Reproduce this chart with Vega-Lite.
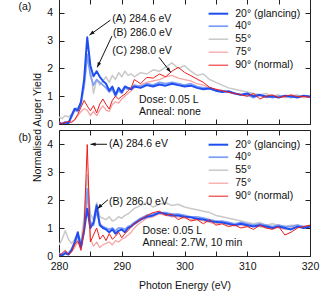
{
"$schema":"https://vega.github.io/schema/vega-lite/v6.json",
"background":"white",
"padding":{"left":17,"top":-2,"right":5,"bottom":0},
"bounds":"flush",
"spacing":6,
"config":{
 "font":"Liberation Sans",
 "view":{"stroke":"#222","strokeWidth":1},
 "axis":{"domain":false,"grid":false,"tickSize":-5,"tickColor":"#222","labelFontSize":10.5,"labelColor":"#111","titleFontSize":10.5,"titleFontWeight":"normal","titleColor":"#111","labelFlush":false,"labelOverlap":false},
 "legend":{"orient":"none","legendX":151.9,"legendY":7.2,"title":null,"symbolType":"M-1.6,0H1.6","symbolSize":150,"labelFontSize":10.5,"labelOffset":9.35,"rowPadding":0,"padding":0,"labelColor":"#111"},
 "text":{"fontSize":10.5,"color":"#111"}
},
"resolve":{"scale":{"color":"independent","strokeWidth":"independent"}},
"datasets":{
"a":[
{"s":"55°","e":280,"y":0.25},{"s":"55°","e":280.5,"y":0.2},{"s":"55°","e":281,"y":0.3},{"s":"55°","e":281.5,"y":0.25},{"s":"55°","e":282,"y":0.35},{"s":"55°","e":282.5,"y":0.55},{"s":"55°","e":283,"y":0.6},{"s":"55°","e":283.5,"y":0.75},{"s":"55°","e":284,"y":1.3},{"s":"55°","e":284.5,"y":2.3},{"s":"55°","e":285,"y":2.0},{"s":"55°","e":285.5,"y":1.1},{"s":"55°","e":286,"y":1.6},{"s":"55°","e":286.5,"y":1.4},{"s":"55°","e":287,"y":1.55},{"s":"55°","e":287.5,"y":1.7},{"s":"55°","e":288,"y":1.5},{"s":"55°","e":288.5,"y":1.75},{"s":"55°","e":289,"y":1.6},{"s":"55°","e":289.5,"y":1.85},{"s":"55°","e":290,"y":1.7},{"s":"55°","e":290.5,"y":1.9},{"s":"55°","e":291,"y":1.75},{"s":"55°","e":291.5,"y":1.8},{"s":"55°","e":292,"y":1.7},{"s":"55°","e":293,"y":1.85},{"s":"55°","e":294,"y":1.8},{"s":"55°","e":295,"y":1.95},{"s":"55°","e":296,"y":1.9},{"s":"55°","e":297,"y":2.05},{"s":"55°","e":298,"y":2.2},{"s":"55°","e":299,"y":2.0},{"s":"55°","e":300,"y":2.1},{"s":"55°","e":301,"y":1.9},{"s":"55°","e":302,"y":1.75},{"s":"55°","e":303,"y":1.8},{"s":"55°","e":304,"y":1.6},{"s":"55°","e":305,"y":1.5},{"s":"55°","e":306,"y":1.4},{"s":"55°","e":307,"y":1.3},{"s":"55°","e":308,"y":1.25},{"s":"55°","e":309,"y":1.2},{"s":"55°","e":310,"y":1.15},{"s":"55°","e":311,"y":1.1},{"s":"55°","e":312,"y":1.05},{"s":"55°","e":313,"y":1.1},{"s":"55°","e":314,"y":1.0},{"s":"55°","e":315,"y":1.05},{"s":"55°","e":316,"y":0.95},{"s":"55°","e":317,"y":1.0},{"s":"55°","e":318,"y":1.05},{"s":"55°","e":319,"y":0.95},{"s":"55°","e":320,"y":1.0},
{"s":"75°","e":280,"y":0.02},{"s":"75°","e":280.5,"y":0.0},{"s":"75°","e":281,"y":0.02},{"s":"75°","e":281.5,"y":0.05},{"s":"75°","e":282,"y":0.1},{"s":"75°","e":282.5,"y":0.15},{"s":"75°","e":283,"y":0.3},{"s":"75°","e":283.5,"y":0.45},{"s":"75°","e":284,"y":0.55},{"s":"75°","e":284.5,"y":0.5},{"s":"75°","e":285,"y":0.3},{"s":"75°","e":285.5,"y":0.45},{"s":"75°","e":286,"y":0.3},{"s":"75°","e":286.5,"y":0.5},{"s":"75°","e":287,"y":0.65},{"s":"75°","e":287.5,"y":0.5},{"s":"75°","e":288,"y":0.45},{"s":"75°","e":288.5,"y":0.7},{"s":"75°","e":289,"y":0.8},{"s":"75°","e":289.5,"y":0.75},{"s":"75°","e":290,"y":0.9},{"s":"75°","e":290.5,"y":1.0},{"s":"75°","e":291,"y":1.1},{"s":"75°","e":291.5,"y":1.2},{"s":"75°","e":292,"y":1.3},{"s":"75°","e":293,"y":1.4},{"s":"75°","e":294,"y":1.5},{"s":"75°","e":295,"y":1.55},{"s":"75°","e":296,"y":1.6},{"s":"75°","e":297,"y":1.7},{"s":"75°","e":298,"y":1.75},{"s":"75°","e":299,"y":1.65},{"s":"75°","e":300,"y":1.6},{"s":"75°","e":301,"y":1.55},{"s":"75°","e":302,"y":1.45},{"s":"75°","e":303,"y":1.4},{"s":"75°","e":304,"y":1.3},{"s":"75°","e":305,"y":1.25},{"s":"75°","e":306,"y":1.2},{"s":"75°","e":307,"y":1.15},{"s":"75°","e":308,"y":1.1},{"s":"75°","e":309,"y":1.05},{"s":"75°","e":310,"y":1.0},{"s":"75°","e":311,"y":1.05},{"s":"75°","e":312,"y":1.0},{"s":"75°","e":313,"y":0.95},{"s":"75°","e":314,"y":1.0},{"s":"75°","e":315,"y":1.0},{"s":"75°","e":316,"y":0.95},{"s":"75°","e":317,"y":1.0},{"s":"75°","e":318,"y":1.0},{"s":"75°","e":319,"y":0.95},{"s":"75°","e":320,"y":1.0},
{"s":"40°","e":280,"y":0.05},{"s":"40°","e":280.5,"y":0.02},{"s":"40°","e":281,"y":0.08},{"s":"40°","e":281.5,"y":0.05},{"s":"40°","e":282,"y":0.25},{"s":"40°","e":282.5,"y":0.5},{"s":"40°","e":283,"y":0.45},{"s":"40°","e":283.5,"y":0.7},{"s":"40°","e":284,"y":1.4},{"s":"40°","e":284.5,"y":2.5},{"s":"40°","e":285,"y":1.75},{"s":"40°","e":285.5,"y":1.4},{"s":"40°","e":286,"y":1.6},{"s":"40°","e":286.5,"y":1.5},{"s":"40°","e":287,"y":1.4},{"s":"40°","e":287.5,"y":1.3},{"s":"40°","e":288,"y":1.15},{"s":"40°","e":288.5,"y":1.25},{"s":"40°","e":289,"y":1.0},{"s":"40°","e":289.5,"y":1.2},{"s":"40°","e":290,"y":1.1},{"s":"40°","e":290.5,"y":1.3},{"s":"40°","e":291,"y":1.25},{"s":"40°","e":291.5,"y":1.3},{"s":"40°","e":292,"y":1.4},{"s":"40°","e":293,"y":1.35},{"s":"40°","e":294,"y":1.45},{"s":"40°","e":295,"y":1.4},{"s":"40°","e":296,"y":1.5},{"s":"40°","e":297,"y":1.45},{"s":"40°","e":298,"y":1.5},{"s":"40°","e":299,"y":1.45},{"s":"40°","e":300,"y":1.4},{"s":"40°","e":301,"y":1.45},{"s":"40°","e":302,"y":1.35},{"s":"40°","e":303,"y":1.3},{"s":"40°","e":304,"y":1.3},{"s":"40°","e":305,"y":1.2},{"s":"40°","e":306,"y":1.2},{"s":"40°","e":307,"y":1.15},{"s":"40°","e":308,"y":1.1},{"s":"40°","e":309,"y":1.05},{"s":"40°","e":310,"y":1.05},{"s":"40°","e":311,"y":0.95},{"s":"40°","e":312,"y":1.05},{"s":"40°","e":313,"y":1.0},{"s":"40°","e":314,"y":0.95},{"s":"40°","e":315,"y":1.0},{"s":"40°","e":316,"y":1.0},{"s":"40°","e":317,"y":0.95},{"s":"40°","e":318,"y":1.0},{"s":"40°","e":319,"y":1.0},{"s":"40°","e":320,"y":1.0},
{"s":"20°","e":280,"y":0.02},{"s":"20°","e":280.5,"y":0.0},{"s":"20°","e":281,"y":0.05},{"s":"20°","e":281.5,"y":0.02},{"s":"20°","e":282,"y":0.3},{"s":"20°","e":282.5,"y":0.55},{"s":"20°","e":283,"y":0.5},{"s":"20°","e":283.5,"y":0.8},{"s":"20°","e":284,"y":1.6},{"s":"20°","e":284.5,"y":3.12},{"s":"20°","e":285,"y":2.1},{"s":"20°","e":285.5,"y":1.72},{"s":"20°","e":286,"y":1.9},{"s":"20°","e":286.5,"y":1.7},{"s":"20°","e":287,"y":1.55},{"s":"20°","e":287.5,"y":1.45},{"s":"20°","e":288,"y":1.2},{"s":"20°","e":288.5,"y":1.35},{"s":"20°","e":289,"y":1.05},{"s":"20°","e":289.5,"y":1.3},{"s":"20°","e":290,"y":1.15},{"s":"20°","e":290.5,"y":1.35},{"s":"20°","e":291,"y":1.3},{"s":"20°","e":291.5,"y":1.25},{"s":"20°","e":292,"y":1.35},{"s":"20°","e":293,"y":1.3},{"s":"20°","e":294,"y":1.4},{"s":"20°","e":295,"y":1.35},{"s":"20°","e":296,"y":1.42},{"s":"20°","e":297,"y":1.38},{"s":"20°","e":298,"y":1.45},{"s":"20°","e":299,"y":1.4},{"s":"20°","e":300,"y":1.35},{"s":"20°","e":301,"y":1.38},{"s":"20°","e":302,"y":1.3},{"s":"20°","e":303,"y":1.25},{"s":"20°","e":304,"y":1.28},{"s":"20°","e":305,"y":1.2},{"s":"20°","e":306,"y":1.15},{"s":"20°","e":307,"y":1.18},{"s":"20°","e":308,"y":1.1},{"s":"20°","e":309,"y":1.05},{"s":"20°","e":310,"y":1.1},{"s":"20°","e":311,"y":1.0},{"s":"20°","e":312,"y":1.05},{"s":"20°","e":313,"y":0.98},{"s":"20°","e":314,"y":1.0},{"s":"20°","e":315,"y":0.95},{"s":"20°","e":316,"y":1.02},{"s":"20°","e":317,"y":1.0},{"s":"20°","e":318,"y":0.95},{"s":"20°","e":319,"y":1.02},{"s":"20°","e":320,"y":0.98},
{"s":"90°","e":280,"y":0.05},{"s":"90°","e":280.5,"y":0.02},{"s":"90°","e":281,"y":0.05},{"s":"90°","e":281.5,"y":0.1},{"s":"90°","e":282,"y":0.05},{"s":"90°","e":282.5,"y":0.15},{"s":"90°","e":283,"y":0.35},{"s":"90°","e":283.5,"y":0.6},{"s":"90°","e":284,"y":0.85},{"s":"90°","e":284.5,"y":0.65},{"s":"90°","e":285,"y":0.48},{"s":"90°","e":285.5,"y":0.66},{"s":"90°","e":286,"y":0.4},{"s":"90°","e":286.5,"y":0.72},{"s":"90°","e":287,"y":0.9},{"s":"90°","e":287.5,"y":0.7},{"s":"90°","e":288,"y":0.54},{"s":"90°","e":288.5,"y":0.85},{"s":"90°","e":289,"y":1.0},{"s":"90°","e":289.5,"y":0.9},{"s":"90°","e":290,"y":1.0},{"s":"90°","e":290.5,"y":1.07},{"s":"90°","e":291,"y":1.2},{"s":"90°","e":291.5,"y":1.3},{"s":"90°","e":292,"y":1.6},{"s":"90°","e":293,"y":1.45},{"s":"90°","e":294,"y":1.68},{"s":"90°","e":295,"y":1.65},{"s":"90°","e":296,"y":1.8},{"s":"90°","e":297,"y":1.7},{"s":"90°","e":298,"y":1.9},{"s":"90°","e":299,"y":2.04},{"s":"90°","e":300,"y":1.86},{"s":"90°","e":301,"y":1.74},{"s":"90°","e":302,"y":1.62},{"s":"90°","e":303,"y":1.5},{"s":"90°","e":304,"y":1.32},{"s":"90°","e":305,"y":1.25},{"s":"90°","e":306,"y":1.2},{"s":"90°","e":307,"y":1.14},{"s":"90°","e":308,"y":1.1},{"s":"90°","e":309,"y":1.05},{"s":"90°","e":310,"y":1.0},{"s":"90°","e":311,"y":1.1},{"s":"90°","e":312,"y":0.9},{"s":"90°","e":313,"y":1.0},{"s":"90°","e":314,"y":1.05},{"s":"90°","e":315,"y":0.95},{"s":"90°","e":316,"y":1.0},{"s":"90°","e":317,"y":1.05},{"s":"90°","e":318,"y":0.98},{"s":"90°","e":319,"y":1.0},{"s":"90°","e":320,"y":0.95}
],
"b":[
{"s":"55°","e":280,"y":0.4},{"s":"55°","e":280.5,"y":0.6},{"s":"55°","e":281,"y":0.9},{"s":"55°","e":281.5,"y":0.6},{"s":"55°","e":282,"y":0.45},{"s":"55°","e":282.5,"y":0.6},{"s":"55°","e":283,"y":0.8},{"s":"55°","e":283.5,"y":0.5},{"s":"55°","e":284,"y":1.4},{"s":"55°","e":284.5,"y":2.9},{"s":"55°","e":285,"y":1.5},{"s":"55°","e":285.5,"y":1.3},{"s":"55°","e":286,"y":1.9},{"s":"55°","e":286.5,"y":1.4},{"s":"55°","e":287,"y":1.35},{"s":"55°","e":287.5,"y":1.3},{"s":"55°","e":288,"y":1.4},{"s":"55°","e":288.5,"y":1.25},{"s":"55°","e":289,"y":1.3},{"s":"55°","e":289.5,"y":1.4},{"s":"55°","e":290,"y":1.35},{"s":"55°","e":290.5,"y":1.45},{"s":"55°","e":291,"y":1.5},{"s":"55°","e":291.5,"y":1.6},{"s":"55°","e":292,"y":1.7},{"s":"55°","e":293,"y":1.8},{"s":"55°","e":294,"y":1.9},{"s":"55°","e":295,"y":1.75},{"s":"55°","e":296,"y":1.85},{"s":"55°","e":297,"y":1.9},{"s":"55°","e":298,"y":1.8},{"s":"55°","e":299,"y":1.85},{"s":"55°","e":300,"y":1.75},{"s":"55°","e":301,"y":1.7},{"s":"55°","e":302,"y":1.65},{"s":"55°","e":303,"y":1.6},{"s":"55°","e":304,"y":1.55},{"s":"55°","e":305,"y":1.45},{"s":"55°","e":306,"y":1.4},{"s":"55°","e":307,"y":1.35},{"s":"55°","e":308,"y":1.3},{"s":"55°","e":309,"y":1.25},{"s":"55°","e":310,"y":1.2},{"s":"55°","e":311,"y":1.15},{"s":"55°","e":312,"y":1.2},{"s":"55°","e":313,"y":1.1},{"s":"55°","e":314,"y":1.15},{"s":"55°","e":315,"y":1.1},{"s":"55°","e":316,"y":1.05},{"s":"55°","e":317,"y":1.1},{"s":"55°","e":318,"y":1.1},{"s":"55°","e":319,"y":1.05},{"s":"55°","e":320,"y":1.1},
{"s":"75°","e":280,"y":0.0},{"s":"75°","e":280.5,"y":0.05},{"s":"75°","e":281,"y":0.1},{"s":"75°","e":281.5,"y":0.05},{"s":"75°","e":282,"y":0.15},{"s":"75°","e":282.5,"y":0.3},{"s":"75°","e":283,"y":0.5},{"s":"75°","e":283.5,"y":0.3},{"s":"75°","e":284,"y":0.8},{"s":"75°","e":284.5,"y":2.2},{"s":"75°","e":285,"y":0.6},{"s":"75°","e":285.5,"y":0.35},{"s":"75°","e":286,"y":0.5},{"s":"75°","e":286.5,"y":0.3},{"s":"75°","e":287,"y":0.4},{"s":"75°","e":287.5,"y":0.45},{"s":"75°","e":288,"y":0.5},{"s":"75°","e":288.5,"y":0.4},{"s":"75°","e":289,"y":0.55},{"s":"75°","e":289.5,"y":0.5},{"s":"75°","e":290,"y":0.6},{"s":"75°","e":290.5,"y":0.65},{"s":"75°","e":291,"y":0.75},{"s":"75°","e":291.5,"y":0.85},{"s":"75°","e":292,"y":1.0},{"s":"75°","e":293,"y":1.2},{"s":"75°","e":294,"y":1.35},{"s":"75°","e":295,"y":1.4},{"s":"75°","e":296,"y":1.5},{"s":"75°","e":297,"y":1.45},{"s":"75°","e":298,"y":1.4},{"s":"75°","e":299,"y":1.4},{"s":"75°","e":300,"y":1.35},{"s":"75°","e":301,"y":1.3},{"s":"75°","e":302,"y":1.3},{"s":"75°","e":303,"y":1.25},{"s":"75°","e":304,"y":1.2},{"s":"75°","e":305,"y":1.15},{"s":"75°","e":306,"y":1.2},{"s":"75°","e":307,"y":1.1},{"s":"75°","e":308,"y":1.15},{"s":"75°","e":309,"y":1.1},{"s":"75°","e":310,"y":1.05},{"s":"75°","e":311,"y":1.1},{"s":"75°","e":312,"y":1.05},{"s":"75°","e":313,"y":1.0},{"s":"75°","e":314,"y":1.05},{"s":"75°","e":315,"y":1.0},{"s":"75°","e":316,"y":0.95},{"s":"75°","e":317,"y":1.0},{"s":"75°","e":318,"y":1.05},{"s":"75°","e":319,"y":1.0},{"s":"75°","e":320,"y":1.05},
{"s":"40°","e":280,"y":0.1},{"s":"40°","e":280.5,"y":0.05},{"s":"40°","e":281,"y":0.15},{"s":"40°","e":281.5,"y":0.1},{"s":"40°","e":282,"y":0.25},{"s":"40°","e":282.5,"y":0.45},{"s":"40°","e":283,"y":0.7},{"s":"40°","e":283.5,"y":0.35},{"s":"40°","e":284,"y":1.0},{"s":"40°","e":284.5,"y":2.4},{"s":"40°","e":285,"y":1.2},{"s":"40°","e":285.5,"y":1.1},{"s":"40°","e":286,"y":1.6},{"s":"40°","e":286.5,"y":1.15},{"s":"40°","e":287,"y":1.05},{"s":"40°","e":287.5,"y":1.0},{"s":"40°","e":288,"y":0.95},{"s":"40°","e":288.5,"y":1.0},{"s":"40°","e":289,"y":0.9},{"s":"40°","e":289.5,"y":1.0},{"s":"40°","e":290,"y":1.0},{"s":"40°","e":290.5,"y":0.95},{"s":"40°","e":291,"y":1.05},{"s":"40°","e":291.5,"y":1.1},{"s":"40°","e":292,"y":1.2},{"s":"40°","e":293,"y":1.35},{"s":"40°","e":294,"y":1.45},{"s":"40°","e":295,"y":1.5},{"s":"40°","e":296,"y":1.55},{"s":"40°","e":297,"y":1.55},{"s":"40°","e":298,"y":1.5},{"s":"40°","e":299,"y":1.5},{"s":"40°","e":300,"y":1.45},{"s":"40°","e":301,"y":1.4},{"s":"40°","e":302,"y":1.4},{"s":"40°","e":303,"y":1.35},{"s":"40°","e":304,"y":1.3},{"s":"40°","e":305,"y":1.25},{"s":"40°","e":306,"y":1.25},{"s":"40°","e":307,"y":1.2},{"s":"40°","e":308,"y":1.15},{"s":"40°","e":309,"y":1.2},{"s":"40°","e":310,"y":1.15},{"s":"40°","e":311,"y":1.1},{"s":"40°","e":312,"y":1.15},{"s":"40°","e":313,"y":1.1},{"s":"40°","e":314,"y":1.05},{"s":"40°","e":315,"y":1.1},{"s":"40°","e":316,"y":1.05},{"s":"40°","e":317,"y":1.05},{"s":"40°","e":318,"y":1.1},{"s":"40°","e":319,"y":1.05},{"s":"40°","e":320,"y":1.05},
{"s":"20°","e":280,"y":0.05},{"s":"20°","e":280.5,"y":0.02},{"s":"20°","e":281,"y":0.1},{"s":"20°","e":281.5,"y":0.05},{"s":"20°","e":282,"y":0.2},{"s":"20°","e":282.5,"y":0.5},{"s":"20°","e":283,"y":0.85},{"s":"20°","e":283.5,"y":0.3},{"s":"20°","e":284,"y":0.9},{"s":"20°","e":284.5,"y":1.69},{"s":"20°","e":285,"y":1.0},{"s":"20°","e":285.5,"y":1.2},{"s":"20°","e":286,"y":1.81},{"s":"20°","e":286.5,"y":1.1},{"s":"20°","e":287,"y":1.0},{"s":"20°","e":287.5,"y":0.95},{"s":"20°","e":288,"y":0.85},{"s":"20°","e":288.5,"y":0.95},{"s":"20°","e":289,"y":0.8},{"s":"20°","e":289.5,"y":0.9},{"s":"20°","e":290,"y":0.95},{"s":"20°","e":290.5,"y":0.85},{"s":"20°","e":291,"y":1.0},{"s":"20°","e":291.5,"y":1.05},{"s":"20°","e":292,"y":1.15},{"s":"20°","e":293,"y":1.3},{"s":"20°","e":294,"y":1.4},{"s":"20°","e":295,"y":1.45},{"s":"20°","e":296,"y":1.55},{"s":"20°","e":297,"y":1.5},{"s":"20°","e":298,"y":1.45},{"s":"20°","e":299,"y":1.45},{"s":"20°","e":300,"y":1.4},{"s":"20°","e":301,"y":1.38},{"s":"20°","e":302,"y":1.33},{"s":"20°","e":303,"y":1.3},{"s":"20°","e":304,"y":1.25},{"s":"20°","e":305,"y":1.21},{"s":"20°","e":306,"y":1.2},{"s":"20°","e":307,"y":1.15},{"s":"20°","e":308,"y":1.1},{"s":"20°","e":309,"y":1.15},{"s":"20°","e":310,"y":1.1},{"s":"20°","e":311,"y":1.05},{"s":"20°","e":312,"y":1.1},{"s":"20°","e":313,"y":1.05},{"s":"20°","e":314,"y":1.0},{"s":"20°","e":315,"y":1.05},{"s":"20°","e":316,"y":1.0},{"s":"20°","e":317,"y":0.95},{"s":"20°","e":318,"y":1.05},{"s":"20°","e":319,"y":1.0},{"s":"20°","e":320,"y":1.05},
{"s":"90°","e":280,"y":0.02},{"s":"90°","e":280.5,"y":0.1},{"s":"90°","e":281,"y":0.2},{"s":"90°","e":281.5,"y":0.05},{"s":"90°","e":282,"y":0.15},{"s":"90°","e":282.5,"y":0.4},{"s":"90°","e":283,"y":0.55},{"s":"90°","e":283.5,"y":0.2},{"s":"90°","e":284,"y":1.0},{"s":"90°","e":284.5,"y":3.98},{"s":"90°","e":285,"y":0.5},{"s":"90°","e":285.5,"y":0.75},{"s":"90°","e":286,"y":1.0},{"s":"90°","e":286.5,"y":0.6},{"s":"90°","e":287,"y":0.75},{"s":"90°","e":287.5,"y":0.55},{"s":"90°","e":288,"y":0.8},{"s":"90°","e":288.5,"y":0.6},{"s":"90°","e":289,"y":0.7},{"s":"90°","e":289.5,"y":0.85},{"s":"90°","e":290,"y":0.65},{"s":"90°","e":290.5,"y":0.8},{"s":"90°","e":291,"y":0.9},{"s":"90°","e":291.5,"y":1.05},{"s":"90°","e":292,"y":1.15},{"s":"90°","e":293,"y":1.3},{"s":"90°","e":294,"y":1.45},{"s":"90°","e":295,"y":1.55},{"s":"90°","e":296,"y":1.6},{"s":"90°","e":297,"y":1.45},{"s":"90°","e":298,"y":1.5},{"s":"90°","e":299,"y":1.3},{"s":"90°","e":300,"y":1.4},{"s":"90°","e":301,"y":1.25},{"s":"90°","e":302,"y":1.3},{"s":"90°","e":303,"y":1.15},{"s":"90°","e":304,"y":1.3},{"s":"90°","e":305,"y":1.1},{"s":"90°","e":306,"y":1.15},{"s":"90°","e":307,"y":1.05},{"s":"90°","e":308,"y":1.1},{"s":"90°","e":309,"y":1.0},{"s":"90°","e":310,"y":1.05},{"s":"90°","e":311,"y":0.95},{"s":"90°","e":312,"y":1.1},{"s":"90°","e":313,"y":1.0},{"s":"90°","e":314,"y":0.95},{"s":"90°","e":315,"y":1.05},{"s":"90°","e":316,"y":0.75},{"s":"90°","e":317,"y":0.85},{"s":"90°","e":318,"y":1.0},{"s":"90°","e":319,"y":1.05},{"s":"90°","e":320,"y":1.1}
],
"na":[{"e":288.5,"y":3.78,"t":"(A) 284.6 eV"},{"e":288.6,"y":3.26,"t":"(B) 286.0 eV"},{"e":288.5,"y":2.64,"t":"(C) 298.0 eV"},{"e":292.75,"y":0.86,"t":"Dose: 0.05 L"},{"e":292.75,"y":0.42,"t":"Anneal: none"}],
"nb":[{"e":287.97,"y":3.99,"t":"(A) 284.6 eV"},{"e":287.97,"y":1.94,"t":"(B) 286.0 eV"},{"e":293.3,"y":0.91,"t":"Dose: 0.05 L"},{"e":293.3,"y":0.47,"t":"Anneal: 2.7W, 10 min"}],
"ra":[{"id":"A","e":288.2,"y":3.74,"e2":284.86,"y2":3.2},{"id":"B","e":288.45,"y":3.17,"e2":286.1,"y2":2.04},{"id":"C","e":295.94,"y":2.4,"e2":297.8,"y2":1.86}],
"rb":[{"id":"A","e":287.65,"y":3.99,"e2":285.02,"y2":3.99},{"id":"B","e":287.8,"y":2.01,"e2":286.14,"y2":1.69}]
},
"vconcat":[
{
 "width":251,"height":125,
 "resolve":{"axis":{"x":"independent","y":"independent"}},
 "layer":[
  {"data":{"name":"a"},
   "mark":{"type":"line","clip":true,"strokeJoin":"round"},
   "encoding":{
    "x":{"field":"e","type":"quantitative","scale":{"domain":[280,320],"nice":false,"zero":false},"axis":{"orient":"bottom","values":[280,285,290,295,300,305,310,315,320],"labels":false,"title":null}},
    "y":{"field":"y","type":"quantitative","scale":{"domain":[0,4.5],"nice":false},"axis":{"orient":"left","values":[0,1,2,3,4],"labelPadding":11.5,"title":"Normalised Auger Yield","titleX":-21.5,"titleY":128,"titleAngle":-90,"titleAlign":"center","titleBaseline":"middle"}},
    "color":{"field":"s","type":"ordinal","scale":{"domain":["20°","40°","55°","75°","90°"],"range":["#1f4ef0","#7f9ef6","#c9c9c9","#f7a3a3","#ec1c1c"]},"legend":{"labelExpr":"datum.label == '20°' ? '20° (glancing)' : datum.label == '90°' ? '90° (normal)' : datum.label"}},
    "strokeWidth":{"field":"s","type":"ordinal","scale":{"domain":["20°","40°","55°","75°","90°"],"range":[2,1,1,1,2]},"legend":{"labelExpr":"datum.label == '20°' ? '20° (glancing)' : datum.label == '90°' ? '90° (normal)' : datum.label"}}
   }},
  {"data":{"name":"na"},
   "mark":{"type":"text","align":"left","baseline":"middle","fontSize":10.5},
   "encoding":{
    "x":{"field":"e","type":"quantitative","scale":{"domain":[280,320],"nice":false,"zero":false},"axis":{"orient":"top","values":[280,285,290,295,300,305,310,315,320],"labels":false,"title":null}},
    "y":{"field":"y","type":"quantitative","scale":{"domain":[0,4.5],"nice":false},"axis":{"orient":"right","values":[0,1,2,3,4],"labels":false,"title":"(a)","titleX":-292,"titleY":7,"titleAngle":0,"titleAlign":"left","titleBaseline":"middle"}},
    "text":{"field":"t"}
   }},
  {"data":{"name":"ra"},
   "mark":{"type":"rule","color":"#111","strokeWidth":1},
   "encoding":{
    "x":{"field":"e","type":"quantitative","axis":null},
    "y":{"field":"y","type":"quantitative","axis":null},
    "x2":{"field":"e2"},"y2":{"field":"y2"}
   }},
  {"data":{"name":"ra"},"transform":[{"filter":"datum.id == 'A'"}],
   "mark":{"type":"point","shape":"M0,0L-0.6,1.7L0.6,1.7Z","filled":true,"color":"#111","size":36,"opacity":1,"angle":232},
   "encoding":{"x":{"field":"e2","type":"quantitative","axis":null},"y":{"field":"y2","type":"quantitative","axis":null}}},
  {"data":{"name":"ra"},"transform":[{"filter":"datum.id == 'B'"}],
   "mark":{"type":"point","shape":"M0,0L-0.6,1.7L0.6,1.7Z","filled":true,"color":"#111","size":36,"opacity":1,"angle":205},
   "encoding":{"x":{"field":"e2","type":"quantitative","axis":null},"y":{"field":"y2","type":"quantitative","axis":null}}},
  {"data":{"name":"ra"},"transform":[{"filter":"datum.id == 'C'"}],
   "mark":{"type":"point","shape":"M0,0L-0.6,1.7L0.6,1.7Z","filled":true,"color":"#111","size":36,"opacity":1,"angle":142},
   "encoding":{"x":{"field":"e2","type":"quantitative","axis":null},"y":{"field":"y2","type":"quantitative","axis":null}}}
 ]
},
{
 "width":251,"height":126,
 "resolve":{"axis":{"x":"independent","y":"independent"}},
 "layer":[
  {"data":{"name":"b"},
   "mark":{"type":"line","clip":true,"strokeJoin":"round"},
   "encoding":{
    "x":{"field":"e","type":"quantitative","scale":{"domain":[280,320],"nice":false,"zero":false},"axis":{"orient":"bottom","values":[280,285,290,295,300,305,310,315,320],"labelExpr":"datum.value % 10 == 0 ? datum.label : ''","labelPadding":10,"title":"Photon Energy (eV)","titlePadding":9}},
    "y":{"field":"y","type":"quantitative","scale":{"domain":[0,4.5],"nice":false},"axis":{"orient":"left","values":[0,1,2,3,4],"labelPadding":11.5,"title":null}},
    "color":{"field":"s","type":"ordinal","scale":{"domain":["20°","40°","55°","75°","90°"],"range":["#1f4ef0","#7f9ef6","#c9c9c9","#f7a3a3","#ec1c1c"]},"legend":{"labelExpr":"datum.label == '20°' ? '20° (glancing)' : datum.label == '90°' ? '90° (normal)' : datum.label"}},
    "strokeWidth":{"field":"s","type":"ordinal","scale":{"domain":["20°","40°","55°","75°","90°"],"range":[2,1,1,1,2]},"legend":{"labelExpr":"datum.label == '20°' ? '20° (glancing)' : datum.label == '90°' ? '90° (normal)' : datum.label"}}
   }},
  {"data":{"name":"nb"},
   "mark":{"type":"text","align":"left","baseline":"middle","fontSize":10.5},
   "encoding":{
    "x":{"field":"e","type":"quantitative","scale":{"domain":[280,320],"nice":false,"zero":false},"axis":{"orient":"top","values":[280,285,290,295,300,305,310,315,320],"labels":false,"title":null}},
    "y":{"field":"y","type":"quantitative","scale":{"domain":[0,4.5],"nice":false},"axis":{"orient":"right","values":[0,1,2,3,4],"labels":false,"title":"(b)","titleX":-292,"titleY":7,"titleAngle":0,"titleAlign":"left","titleBaseline":"middle"}},
    "text":{"field":"t"}
   }},
  {"data":{"name":"rb"},
   "mark":{"type":"rule","color":"#111","strokeWidth":1},
   "encoding":{
    "x":{"field":"e","type":"quantitative","axis":null},
    "y":{"field":"y","type":"quantitative","axis":null},
    "x2":{"field":"e2"},"y2":{"field":"y2"}
   }},
  {"data":{"name":"rb"},"transform":[{"filter":"datum.id == 'A'"}],
   "mark":{"type":"point","shape":"M0,0L-0.6,1.7L0.6,1.7Z","filled":true,"color":"#111","size":36,"opacity":1,"angle":270},
   "encoding":{"x":{"field":"e2","type":"quantitative","axis":null},"y":{"field":"y2","type":"quantitative","axis":null}}},
  {"data":{"name":"rb"},"transform":[{"filter":"datum.id == 'B'"}],
   "mark":{"type":"point","shape":"M0,0L-0.6,1.7L0.6,1.7Z","filled":true,"color":"#111","size":36,"opacity":1,"angle":226},
   "encoding":{"x":{"field":"e2","type":"quantitative","axis":null},"y":{"field":"y2","type":"quantitative","axis":null}}}
 ]
}
]
}
